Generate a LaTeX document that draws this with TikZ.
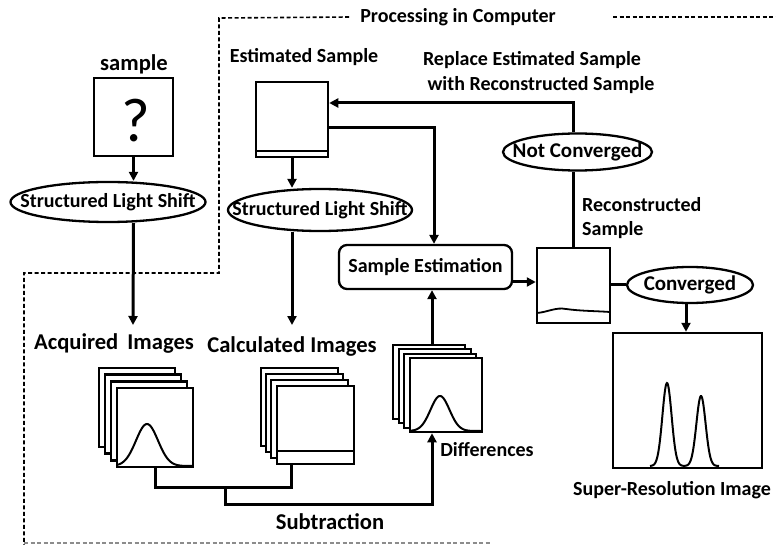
\documentclass[tikz,border=0pt]{standalone}
\usepackage{fontspec}
\setmainfont{Carlito}
\usetikzlibrary{arrows.meta,shapes.geometric}
\begin{document}
\begin{tikzpicture}[x=1pt,y=-1pt,
  txt/.style={font=\bfseries\fontsize{20}{24}\selectfont, inner sep=0pt},
  bigtxt/.style={font=\bfseries\fontsize{22.6}{26}\selectfont, inner sep=0pt},
  oval/.style={ellipse, draw, line width=2.3pt, inner sep=0pt, font=\bfseries\fontsize{20}{24}\selectfont},
  frame/.style={draw, line width=2.5pt, fill=white, inner sep=0pt},
  arr/.style={line width=3pt, -{Triangle[length=9pt,width=9pt]}},
  con/.style={line width=3pt},
  bnd/.style={line width=1.6pt, dash pattern=on 4pt off 2.5pt},
  curve/.style={line width=2pt}
]
\useasboundingbox (0,0) rectangle (776,545);

% boundary of "Processing in Computer"
\node[txt] (proc) at (458,17) {Processing in Computer};
\draw[bnd] (proc.west) ++(-11pt,0) -- (219,18) -- (219,273) -- (24,273) -- (24,545);
\draw[bnd] (613,17) -- (776,17);
\draw[bnd, black!45] (24,543) -- (490,543);

% sample
\node[bigtxt] (samplelbl) at (134,64) {sample};
\node[frame, minimum width=79pt, minimum height=78pt] (sbox) at (133.5,117) {};
\node[font=\fontsize{62}{62}\selectfont, inner sep=0pt] (qm) at (136,121) {?};
\node[oval, minimum width=195pt, minimum height=40pt] (sls1) at (108,202) {\makebox[0pt]{Structured Light Shift}};
\draw[arr] (sbox.south) -- (sbox.south |- sls1.north);
\coordinate (acqtip) at (133,325);
\draw[arr] (sbox.south |- sls1.south) -- (acqtip);
\node[bigtxt] (acq) at (114,343) {Acquired\hspace{4pt} Images};

% estimated sample
\node[txt] (estlbl) at (304,57) {Estimated Sample};
\node[frame, minimum width=72pt, minimum height=75pt] (est) at (292,119.5) {};
\draw[line width=2pt] ([yshift=7pt]est.south west) -- ([yshift=7pt]est.south east);
\node[oval, minimum width=184pt, minimum height=42pt] (sls2) at (320,210) {\makebox[0pt]{Structured Light Shift}};
\draw[arr] (est.south) -- (est.south |- sls2.north);
\coordinate (calctip) at (292,325);
\draw[arr] (est.south |- sls2.south) -- (calctip);
\node[bigtxt] (calc) at (292,346) {Calculated Images};

% sample estimation
\node[draw, line width=2.3pt, rounded corners=8pt, minimum width=173pt, minimum height=44pt, txt] (se) at (425.5,267) {Sample Estimation};
\coordinate (j1) at (434,128);
\draw[arr] (est.east |- j1) -| (se.north -| j1);

% reconstructed sample
\node[frame, minimum width=73pt, minimum height=75pt] (rec) at (573.5,285.5) {};
\draw[line width=1.8pt] (537,313) .. controls (548,312) and (556,307) .. (566,309) .. controls (580,311) and (596,311) .. (610,312);
\coordinate (j2) at (0,282);
\draw[arr] (se.east |- j2) -- (rec.west |- j2);
\node[txt, anchor=west] (reclbl1) at (582,205) {Reconstructed};
\node[txt, anchor=west] (reclbl2) at (582,230) {Sample};

% not converged loop
\node[oval, minimum width=149pt, minimum height=37pt, font=\bfseries\fontsize{21}{24}\selectfont] (nc) at (577.5,152) {\makebox[0pt]{Not Converged}};
\draw[con] (rec.north) -- (rec.north |- nc.south);
\coordinate (j3) at (0,103);
\draw[arr] (rec.north |- nc.north) |- (est.east |- j3);
\node[txt] (rep1) at (532,60) {Replace Estimated Sample};
\node[txt] (rep2) at (541,85) {with Reconstructed Sample};

% converged
\node[oval, minimum width=126pt, minimum height=36pt, font=\bfseries\fontsize{21}{24}\selectfont] (conv) at (690,285) {\makebox[0pt]{Converged}};
\draw[con] (rec.east |- conv.west) -- (conv.west);
\node[frame, minimum width=149pt, minimum height=135pt] (sr) at (687.5,400.5) {};
\draw[arr] ([xshift=-4pt]conv.south) -- ([xshift=-4pt]conv.south |- sr.north);
\draw[curve] plot[domain=650:719, samples=160, smooth] (\x,{466-83*exp(-((\x-667)^2)/(2*4.6*4.6))-70*exp(-((\x-701)^2)/(2*4.6*4.6))});
\node[txt] (srlbl) at (672,490) {Super-Resolution Image};

% acquired images stack
\node[frame, minimum width=76pt, minimum height=79pt] (a1) at (137,407.5) {};
\node[frame, minimum width=76pt, minimum height=79pt] (a2) at (143,414) {};
\node[frame, minimum width=76pt, minimum height=79pt] (a3) at (149,421) {};
\node[frame, minimum width=76pt, minimum height=79pt] (af) at (155,427.5) {};
\draw[curve] plot[domain=118:192, samples=80, smooth] (\x,{466-42*exp(-((\x-147)^2)/(2*11*11))});

% calculated images stack
\node[frame, minimum width=77pt, minimum height=78pt] (c1) at (299.5,407) {};
\node[frame, minimum width=77pt, minimum height=78pt] (c2) at (304.5,413) {};
\node[frame, minimum width=77pt, minimum height=78pt] (c3) at (309.5,419) {};
\node[frame, minimum width=77pt, minimum height=78pt] (cf) at (315.5,425) {};
\draw[line width=2.2pt] ([yshift=14pt]cf.south west) -- ([yshift=14pt]cf.south east);

% differences stack
\node[frame, minimum width=72pt, minimum height=74pt] (d1) at (429,382) {};
\node[frame, minimum width=72pt, minimum height=74pt] (d2) at (435,386) {};
\node[frame, minimum width=72pt, minimum height=74pt] (d3) at (440,391) {};
\node[frame, minimum width=72pt, minimum height=74pt] (df) at (446,395) {};
\draw[curve] plot[domain=411:481, samples=80, smooth] (\x,{431-35*exp(-((\x-440)^2)/(2*9.5*9.5))});
\node[txt] (diff) at (487,450) {Differences};

% subtraction connectors
\coordinate (s1) at (225,487);
\draw[con] (af.south) |- (s1) -| ([xshift=16pt]cf.south west);
\coordinate (xd) at (432,0);
\draw[arr] (s1) |- (0,504 -| xd) -- (df.south -| xd);
\node[bigtxt] (sub) at (330,522) {Subtraction};
\draw[arr] (d1.north -| xd) -- (se.south -| xd);

\end{tikzpicture}
\end{document}
